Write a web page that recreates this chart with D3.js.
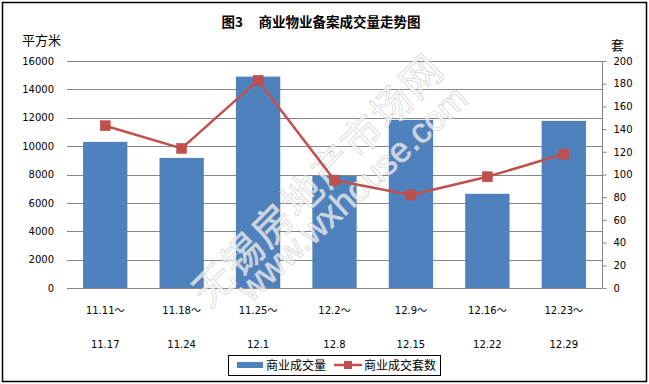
<!DOCTYPE html>
<html><head><meta charset="utf-8">
<script src="https://cdn.jsdelivr.net/npm/d3@7"></script>
<style>
html,body{margin:0;padding:0;background:#fff;}
svg{display:block;}
</style>
</head><body>
<svg id="c" width="649" height="384"></svg>
<script>
const categories1 = ["11.11～","11.18～","11.25～","12.2～","12.9～","12.16～","12.23～"];
const categories2 = ["11.17","11.24","12.1","12.8","12.15","12.22","12.29"];
const areaValues = [10300, 9170, 14900, 7900, 11850, 6640, 11780];
const unitValues = [143, 123, 183, 95, 82, 98, 118];
const leftTicks = [0,2000,4000,6000,8000,10000,12000,14000,16000];
const rightTicks = [0,20,40,60,80,100,120,140,160,180,200];
const seriesNames = ["商业成交量","商业成交套数"];
const title = "图3\u00a0\u00a0\u00a0\u00a0\u00a0商业物业备案成交量走势图";

(function(){
const svg = d3.select("#c");
const FONT = "'DejaVu Sans','Noto Sans CJK SC',sans-serif";
const CJK = "'Noto Sans CJK SC',sans-serif";
const pL = 67, pR = 602, pT = 61, pB = 288;

svg.append("rect").attr("x",2.5).attr("y",2.5).attr("width",644).attr("height",379)
  .attr("fill","#fff").attr("stroke","#000").attr("stroke-width",1.5);

const x = d3.scaleBand().domain(d3.range(categories1.length)).range([pL,pR])
  .paddingInner(0.42).paddingOuter(0.21);
const yL = d3.scaleLinear().domain([0,16000]).range([pB,pT]);
const yR = d3.scaleLinear().domain([0,200]).range([pB,pT]);

// gridlines
svg.append("g").selectAll("line").data(leftTicks).join("line")
  .attr("x1",pL).attr("x2",pR)
  .attr("y1",d=>Math.round(yL(d))+0.5).attr("y2",d=>Math.round(yL(d))+0.5)
  .attr("stroke","#868686").attr("stroke-width",1);

// left axis labels
const gL = svg.append("g").attr("transform",`translate(${pL},0)`)
  .call(d3.axisLeft(yL).tickValues(leftTicks).tickSize(0).tickPadding(13).tickFormat(d3.format("d")));
gL.select(".domain").remove();
gL.selectAll("text").attr("font-family",FONT).attr("font-size",10).attr("fill","#000");

// right axis
const gR = svg.append("g").attr("transform",`translate(${pR+0.5},0)`)
  .call(d3.axisRight(yR).tickValues(rightTicks).tickSize(4).tickPadding(7).tickFormat(d3.format("d")));
gR.select(".domain").attr("stroke","#868686").attr("d",`M0,${pT}V${pB}`);
gR.selectAll(".tick line").attr("stroke","#868686");
gR.selectAll("text").attr("font-family",FONT).attr("font-size",10).attr("fill","#000");

// bars
svg.append("g").selectAll("rect").data(areaValues).join("rect")
  .attr("x",(d,i)=>x(i)).attr("width",x.bandwidth())
  .attr("y",d=>yL(d)).attr("height",d=>yL(0)-yL(d))
  .attr("fill","#4F81BD");

// watermark
const wm = svg.append("g").attr("pointer-events","none");
wm.append("text").attr("transform","translate(316,178) rotate(-45)")
  .attr("text-anchor","middle").attr("dominant-baseline","central")
  .attr("font-family",CJK).attr("font-size",40).attr("letter-spacing",2)
  .attr("fill","#fff").attr("fill-opacity",0.7).attr("stroke","#d0d0d0").attr("stroke-width",0.7)
  .text("无锡房地产市场网");
wm.append("text").attr("transform","translate(352,193) rotate(-42.6)")
  .attr("text-anchor","middle").attr("dominant-baseline","central")
  .attr("font-family","'Liberation Sans',Arial,sans-serif").attr("font-size",35)
  .attr("fill","#fff").attr("fill-opacity",0.7).attr("stroke","#d0d0d0").attr("stroke-width",0.7)
  .text("www.wxhouse.com");

// line
const cx = i => x(i) + x.bandwidth()/2;
svg.append("path").datum(unitValues)
  .attr("d", d3.line().x((d,i)=>cx(i)).y(d=>yR(d)))
  .attr("fill","none").attr("stroke","#C0504D").attr("stroke-width",2.5).attr("stroke-linejoin","round");
svg.append("g").selectAll("rect").data(unitValues).join("rect")
  .attr("x",(d,i)=>cx(i)-5).attr("y",d=>yR(d)-5).attr("width",10).attr("height",10)
  .attr("fill","#C0504D").attr("stroke","#B84A47").attr("stroke-width",0.5);

// x labels
const gx = svg.append("g");
gx.selectAll("text.l1").data(categories1).join("text").attr("class","l1")
  .attr("x",(d,i)=>cx(i)).attr("y",314).attr("text-anchor","middle")
  .attr("font-family",FONT).attr("font-size",10).attr("fill","#000").text(d=>d);
gx.selectAll("text.l2").data(categories2).join("text").attr("class","l2")
  .attr("x",(d,i)=>cx(i)).attr("y",348).attr("text-anchor","middle")
  .attr("font-family",FONT).attr("font-size",10).attr("fill","#000").text(d=>d);

// title & units
svg.append("text").attr("x",321).attr("y",27).attr("text-anchor","middle")
  .attr("font-family",CJK).attr("font-weight","bold").attr("font-size",13.5).attr("fill","#000").text(title);
svg.append("text").attr("x",22).attr("y",45).attr("font-family",CJK).attr("font-size",13).attr("fill","#000").text("平方米");
svg.append("text").attr("x",611).attr("y",50).attr("font-family",CJK).attr("font-size",13).attr("fill","#000").text("套");

// legend
const lg = svg.append("g");
lg.append("rect").attr("x",228.5).attr("y",355.5).attr("width",212).attr("height",20)
  .attr("fill","#fff").attr("stroke","#000").attr("stroke-width",1);
lg.append("rect").attr("x",237).attr("y",362).attr("width",26).attr("height",6).attr("fill","#4F81BD");
lg.append("text").attr("x",266).attr("y",370).attr("font-family",CJK).attr("font-size",12).attr("fill","#000").text(seriesNames[0]);
lg.append("line").attr("x1",334).attr("x2",362).attr("y1",365).attr("y2",365).attr("stroke","#C0504D").attr("stroke-width",2.5);
lg.append("rect").attr("x",344).attr("y",361).attr("width",8).attr("height",8).attr("fill","#C0504D");
lg.append("text").attr("x",364).attr("y",370).attr("font-family",CJK).attr("font-size",12).attr("fill","#000").text(seriesNames[1]);
})();
</script>
</body></html>
